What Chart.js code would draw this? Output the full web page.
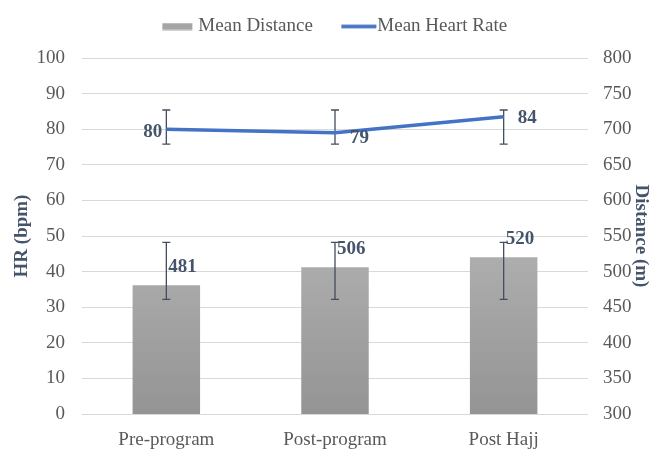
<!doctype html>
<html lang="en">
<head>
<meta charset="UTF-8" />
<title>Mean Distance and Heart Rate</title>
<script src="https://cdn.jsdelivr.net/npm/chart.js"></script>
<style>
  html, body { margin: 0; padding: 0; background: #fff; }
  #wrap { width: 658px; height: 454px; }
</style>
</head>
<body>
<div id="wrap"><canvas id="myChart"></canvas></div>
<script>
  // values
  const categories = ["Pre-program", "Post-program", "Post Hajj"];
  const meanDistance = [481, 506, 520];
  const distErrLow = [461, 461, 461];
  const distErrHigh = [541, 541, 541];
  const meanHeartRate = [80, 79, 83.5];
  const hrErrLow = [75.8, 75.8, 75.8];
  const hrErrHigh = [85.4, 85.4, 85.4];
  const hrAxis = { min: 0, max: 100, step: 10 };
  const distAxis = { min: 300, max: 800, step: 50 };

  const serif = "'Liberation Serif', 'Times New Roman', serif";
  const tickColor = "#595959";
  const darkBlue = "#44546a";

  function legendIcon(kind) {
    const c = document.createElement("canvas");
    c.width = 49;
    c.height = 8;
    const g = c.getContext("2d");
    if (kind === "bar") {
      g.fillStyle = "#a5a5a5";
      g.fillRect(13, 0.5, 30, 7);
    } else {
      g.fillStyle = "#4472c4";
      g.fillRect(13, 2.2, 35, 3.6);
    }
    return c;
  }
  const icons = [legendIcon("bar"), legendIcon("line")];

  // nudge the legend up/right, the chart.js padding is shared by x and y
  const legendNudge = {
    id: "legendNudge",
    afterLayout(chart) {
      const lg = chart.legend;
      if (!lg) return;
      lg.top -= 12;
      lg.left += 4;
      lg.right += 4;
    }
  };

  const errorBars = {
    id: "errorBars",
    afterDatasetDraw(chart, args) {
      if (args.index !== 0) return;
      const ctx = chart.ctx;
      const x = chart.scales.x, yl = chart.scales.y, yr = chart.scales.y1;
      const bar = (px, lo, hi) => {
        ctx.beginPath();
        ctx.moveTo(px, lo); ctx.lineTo(px, hi);
        ctx.moveTo(px - 4, lo); ctx.lineTo(px + 4, lo);
        ctx.moveTo(px - 4, hi); ctx.lineTo(px + 4, hi);
        ctx.stroke();
      };
      ctx.save();
      ctx.strokeStyle = "#434d5c";
      ctx.lineWidth = 1.3;
      categories.forEach((c, i) => {
        const px = x.getPixelForValue(i);
        bar(px, yr.getPixelForValue(distErrLow[i]), yr.getPixelForValue(distErrHigh[i]));
        bar(px, yl.getPixelForValue(hrErrLow[i]), yl.getPixelForValue(hrErrHigh[i]));
      });
      ctx.restore();
    }
  };

  const valueLabels = {
    id: "valueLabels",
    afterDatasetsDraw(chart) {
      const ctx = chart.ctx;
      ctx.save();
      ctx.font = "bold 19px " + serif;
      ctx.fillStyle = darkBlue;
      ctx.textBaseline = "middle";
      ctx.textAlign = "left";
      chart.getDatasetMeta(0).data.forEach((b, i) => {
        ctx.fillText(String(meanDistance[i]), b.x + 2, b.y - 18);
      });
      const place = [
        { dx: -4, dy: 3, align: "right" },
        { dx: 15, dy: 5, align: "left" },
        { dx: 14, dy: 1, align: "left" }
      ];
      chart.getDatasetMeta(1).data.forEach((p, i) => {
        ctx.textAlign = place[i].align;
        ctx.fillText(String(Math.round(meanHeartRate[i])), p.x + place[i].dx, p.y + place[i].dy);
      });
      ctx.restore();
    }
  };

  const ctx = document.getElementById("myChart");

  new Chart(ctx, {
    data: {
      labels: categories,
      datasets: [
        {
          type: "bar",
          label: "Mean Distance",
          data: meanDistance,
          yAxisID: "y1",
          order: 2,
          barPercentage: 0.4,
          categoryPercentage: 1,
          backgroundColor: (c) => {
            const ch = c.chart;
            if (!ch.chartArea || !ch.scales.y1) return "#a5a5a5";
            const g = ch.ctx.createLinearGradient(0, ch.scales.y1.getPixelForValue(520), 0, ch.chartArea.bottom);
            g.addColorStop(0, "#adadad");
            g.addColorStop(1, "#949494");
            return g;
          }
        },
        {
          type: "line",
          label: "Mean Heart Rate",
          data: meanHeartRate,
          yAxisID: "y",
          order: 1,
          borderColor: "#4472c4",
          backgroundColor: "#4472c4",
          borderWidth: 3.5,
          pointRadius: 0,
          tension: 0
        }
      ]
    },
    options: {
      responsive: true,
      maintainAspectRatio: false,
      animation: false,
      layout: { padding: 0 },
      plugins: {
        tooltip: { enabled: false },
        legend: {
          position: "top",
          labels: {
            usePointStyle: true,
            pointStyleWidth: 30,
            padding: 25,
            color: tickColor,
            font: { family: serif, size: 19 },
            generateLabels(chart) {
              const items = Chart.defaults.plugins.legend.labels.generateLabels(chart);
              items.forEach((it) => { it.pointStyle = icons[it.datasetIndex]; });
              return items.sort((a, b) => a.datasetIndex - b.datasetIndex);
            }
          }
        }
      },
      scales: {
        x: {
          grid: { display: false },
          border: { display: false },
          ticks: { color: tickColor, padding: 7, font: { family: serif, size: 19 } },
          afterFit(s) { s.height = 40; }
        },
        y: {
          position: "left",
          min: hrAxis.min,
          max: hrAxis.max,
          grid: { color: "#d9d9d9", lineWidth: 1, drawTicks: false },
          border: { display: false },
          ticks: { stepSize: hrAxis.step, color: tickColor, padding: 17, font: { family: serif, size: 19 } },
          title: {
            display: true,
            text: "HR (bpm)",
            color: darkBlue,
            padding: { top: 11, bottom: 0 },
            font: { family: serif, size: 19, weight: "bold" }
          },
          afterFit(s) { s.width = 82; s.paddingTop = 58; }
        },
        y1: {
          position: "right",
          min: distAxis.min,
          max: distAxis.max,
          grid: { display: false, drawTicks: false },
          border: { display: false },
          ticks: { stepSize: distAxis.step, color: tickColor, padding: 15, font: { family: serif, size: 19 } },
          title: {
            display: true,
            text: "Distance (m)",
            color: darkBlue,
            padding: { top: 6, bottom: 0 },
            font: { family: serif, size: 19, weight: "bold" }
          },
          afterFit(s) { s.width = 70; }
        }
      }
    },
    plugins: [errorBars, valueLabels, legendNudge]
  });
</script>
</body>
</html>
